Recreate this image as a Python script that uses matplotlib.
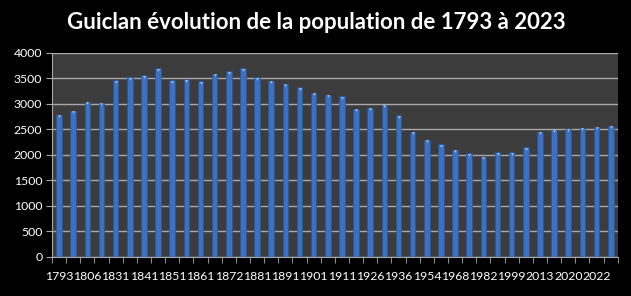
import matplotlib
matplotlib.use("Agg")
import matplotlib.pyplot as plt
import numpy as np

years = ["1793", "1800", "1806", "1821", "1831", "1836", "1841", "1846", "1851", "1856",
         "1861", "1866", "1872", "1876", "1881", "1886", "1891", "1896", "1901", "1906",
         "1911", "1921", "1926", "1931", "1936", "1946", "1954", "1962", "1968", "1975",
         "1982", "1990", "1999", "2006", "2013", "2018", "2020", "2021", "2022", "2023"]
population = [2780, 2860, 3036, 3016, 3462, 3521, 3560, 3698, 3462, 3482,
              3442, 3587, 3639, 3698, 3521, 3449, 3390, 3324, 3213, 3174,
              3147, 2898, 2918, 2977, 2774, 2446, 2288, 2203, 2092, 2026,
              1954, 2046, 2046, 2144, 2446, 2492, 2505, 2524, 2544, 2564]
title = "Guiclan évolution de la population de 1793 à 2023"

fig = plt.figure(figsize=(6.31, 2.96), dpi=100, facecolor="black")
ax = fig.add_axes([0.0824, 0.133, 0.8966, 0.688])
ax.set_facecolor("#3c3c3c")

x = np.arange(len(years))
ax.bar(x, population, width=0.4, color="#3b70c2", edgecolor="#2a5596", linewidth=0.5, zorder=3)
# light caps on bar tops
ax.scatter(x, np.array(population) - 25, marker="v", s=4, color="#9cc0ef", zorder=4, linewidths=0)

ax.set_xlim(-0.5, len(years) - 0.5)
ax.set_ylim(0, 4000)
ax.set_yticks(np.arange(0, 4001, 500))
ax.yaxis.grid(True, color="#a8a8a8", linewidth=1, zorder=1)

ax.set_xticks(x[::2])
ax.set_xticklabels(years[::2], family="Lato")
ax.set_yticklabels([str(v) for v in range(0, 4001, 500)], family="Lato")
ax.set_xticks(np.arange(-0.5, len(years), 1), minor=True)
ax.tick_params(axis="x", which="major", length=0, pad=10, labelsize=8.8, colors="white")
ax.tick_params(axis="x", which="minor", length=4, color="#a8a8a8")
ax.tick_params(axis="y", length=4, color="#a8a8a8", labelsize=8.8, labelcolor="white", pad=3)

for side in ["top", "right"]:
    ax.spines[side].set_visible(False)
for side in ["left", "bottom"]:
    ax.spines[side].set_color("#a8a8a8")

fig.text(0.502, 0.925, title, ha="center", va="center", color="white",
         fontsize=16, fontweight="bold", family="Lato")

fig.savefig("out.png", dpi=100, facecolor="black")
